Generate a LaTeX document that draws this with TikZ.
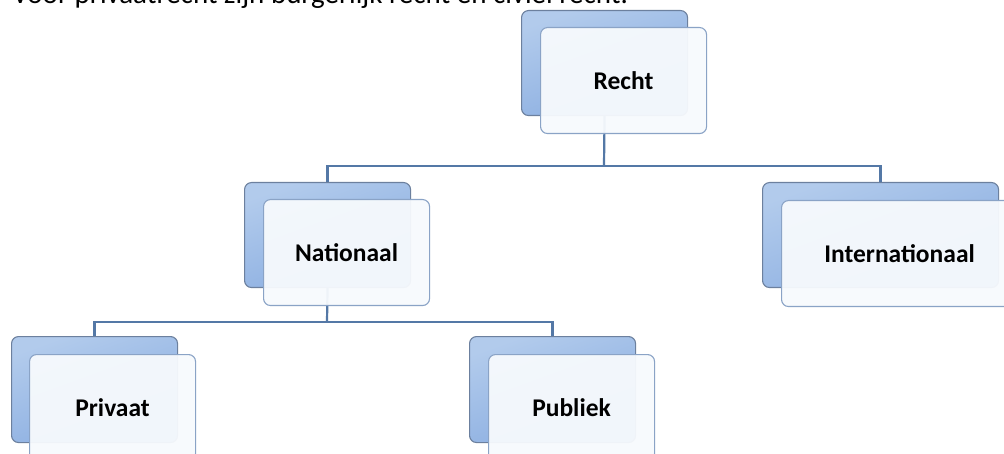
\documentclass[tikz,border=0pt]{standalone}
\usepackage{fontspec}
\setmainfont{Carlito}
\begin{document}
\begin{tikzpicture}[x=1pt,y=-1pt,
  backbox/.style={draw=backEdge, line width=1.1pt, rounded corners=7pt,
    top color=blueTop, bottom color=blueBot, shading angle=20,
    minimum width=166pt, minimum height=105pt, inner sep=0pt, anchor=north west},
  frontbox/.style={draw=frontEdge, line width=1.1pt, rounded corners=7pt,
    fill=frontFill, fill opacity=0.95, text opacity=1,
    minimum width=166pt, minimum height=106pt, inner sep=0pt, anchor=north west,
    font=\fontsize{25.5}{30}\selectfont\bfseries, text=black},
  conn/.style={draw=connCol, line width=2.2pt}
]
\definecolor{blueTop}{RGB}{178,203,236}
\definecolor{blueBot}{RGB}{136,172,224}
\definecolor{backEdge}{RGB}{108,128,158}
\definecolor{frontEdge}{RGB}{138,163,198}
\definecolor{frontFill}{RGB}{247,250,253}
\definecolor{connCol}{RGB}{84,120,166}
\useasboundingbox (0,0) rectangle (1004,454);
\clip (0,0) rectangle (1004,454);
\fill[white] (0,0) rectangle (1004,454);

% top line of text (cut off by the picture's edge, as in the reference)
\node[anchor=base west, inner sep=0pt, font=\fontsize{29}{34}\selectfont] (intro) at (12,4)
  {Voor privaatrecht zijn burgerlijk recht en civiel recht.};

% back boxes
\node[backbox] (rB) at (521,10) {};
\node[backbox] (nB) at (244,182) {};
\node[backbox, minimum width=236pt] (iB) at (762,182) {};
\node[backbox, minimum height=106pt] (pvB) at (11,336) {};
\node[backbox, minimum height=106pt] (pbB) at (469,336) {};

% connectors
\coordinate (j1) at (604,166);
\coordinate (j2) at (327,322);
\draw[conn] (rB.south) -- (j1);
\draw[conn] (j1) -| (nB.north);
\draw[conn] (j1) -| (iB.north);
\draw[conn] (nB.south) -- (j2);
\draw[conn] (j2) -| (pvB.north);
\draw[conn] (j2) -| (pbB.north);

% front boxes
\node[frontbox] (rF) at (540,27) {Recht};
\node[frontbox] (nF) at (263,199) {Nationaal};
\node[frontbox, minimum width=236pt] (iF) at (781,200) {Internationaal};
\node[frontbox] (pvF) at (29,354) {Privaat};
\node[frontbox] (pbF) at (488,354) {Publiek};
\end{tikzpicture}
\end{document}
